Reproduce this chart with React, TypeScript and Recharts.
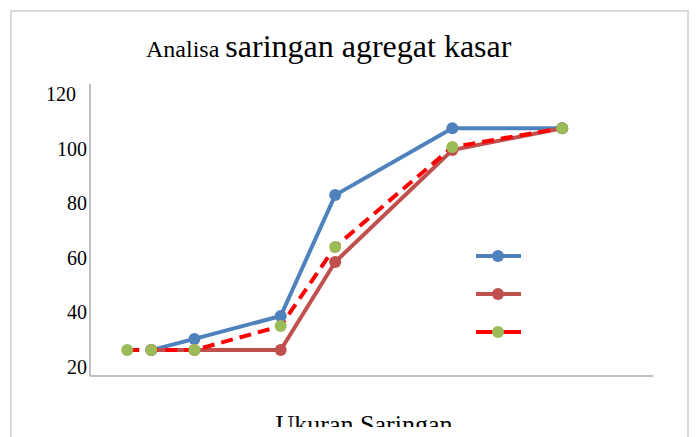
import React from "react";
import { LineChart, Line, XAxis, YAxis, Legend, Customized } from "recharts";

// Sieve sizes (x positions)
const sieveSizes = [2.1, 4.75, 9.5, 19, 25, 37.9, 50];
// Series values (percent passing)
const seriesBlue = [null, 26.2, 30.3, 38.7, 83.0, 107.5, 107.5];
const seriesRed = [null, 26.2, 26.2, 26.2, 58.5, 99.5, 107.5];
const seriesDashed = [26.2, 26.2, 26.2, 35.0, 64.0, 100.6, 107.5];
const yTicks = [20, 40, 60, 80, 100, 120];

const titleSmall = "Analisa";
const titleLarge = "saringan agregat kasar";
const xTitle = "Ukuran Saringan";

const data = sieveSizes.map((x, i) => ({
  x,
  blue: seriesBlue[i],
  red: seriesRed[i],
  dashed: seriesDashed[i],
}));

const SERIF = "'Liberation Serif', 'DejaVu Serif', serif";

const legendItems = [
  { line: "#4F81BD", dot: "#4F81BD" },
  { line: "#C0504D", dot: "#C0504D" },
  { line: "#FF0000", dot: "#9BBB59" },
];

const YTick = (props: any) => {
  const { x, y, payload } = props;
  const shift = payload.value === 120 ? 11 : 0;
  return (
    <text
      x={x - shift}
      y={y}
      textAnchor="end"
      dominantBaseline="central"
      fontFamily={SERIF}
      fontSize={20}
      fill="#000"
    >
      {payload.value}
    </text>
  );
};

const LegendContent = () => (
  <svg width={60} height={100}>
    {legendItems.map((it, i) => (
      <g key={i}>
        <line x1={2} x2={47} y1={10 + i * 38} y2={10 + i * 38} stroke={it.line} strokeWidth={4} />
        <circle cx={24} cy={10 + i * 38} r={6} fill={it.dot} />
      </g>
    ))}
  </svg>
);

const Decorations = () => (
  <g>
    <defs>
      <clipPath id="xlabclip">
        <rect x={0} y={0} width={700} height={419} />
      </clipPath>
    </defs>
    <rect x={3} y={3} width={677} height={460} fill="none" stroke="#D9D9D9" strokeWidth={2} />
    <text x={138} y={49} fontFamily={SERIF} fill="#000">
      <tspan fontSize={24}>{titleSmall} </tspan>
      <tspan fontSize={32}>{titleLarge}</tspan>
    </text>
    <text
      x={356}
      y={425}
      textAnchor="middle"
      fontFamily={SERIF}
      fontSize={26}
      fill="#000"
      clipPath="url(#xlabclip)"
    >
      {xTitle}
    </text>
  </g>
);

export default function App() {
  return (
    <div style={{ width: 682, height: 429 }}>
      <LineChart
        width={682}
        height={429}
        data={data}
        margin={{ top: 76, right: 37, bottom: 31, left: 22 }}
      >
        <Customized component={Decorations} />
        <XAxis
          dataKey="x"
          type="number"
          domain={[-2, 60]}
          allowDataOverflow
          tick={false}
          tickLine={false}
          axisLine={{ stroke: "#BFBFBF", strokeWidth: 2 }}
          height={30}
        />
        <YAxis
          type="number"
          domain={[16.7, 123.7]}
          allowDataOverflow
          ticks={yTicks}
          tick={<YTick />}
          tickLine={false}
          tickSize={0}
          tickMargin={3}
          axisLine={{ stroke: "#BFBFBF", strokeWidth: 2 }}
          width={60}
        />
        <Legend
          layout="horizontal"
          verticalAlign="middle"
          align="center"
          content={<LegendContent />}
          wrapperStyle={{ position: "absolute", left: 466, top: 238, width: 60, height: 100 }}
        />
        <Line
          dataKey="blue"
          stroke="#4F81BD"
          strokeWidth={4}
          dot={{ r: 6, fill: "#4F81BD", stroke: "none" }}
          activeDot={false}
          isAnimationActive={false}
        />
        <Line
          dataKey="red"
          stroke="#C0504D"
          strokeWidth={4}
          dot={{ r: 6, fill: "#C0504D", stroke: "none" }}
          activeDot={false}
          isAnimationActive={false}
        />
        <Line
          dataKey="dashed"
          stroke="#FF0000"
          strokeWidth={4}
          strokeDasharray="12 7"
          dot={{ r: 6, fill: "#9BBB59", stroke: "none", strokeDasharray: "" }}
          activeDot={false}
          isAnimationActive={false}
        />
      </LineChart>
    </div>
  );
}
